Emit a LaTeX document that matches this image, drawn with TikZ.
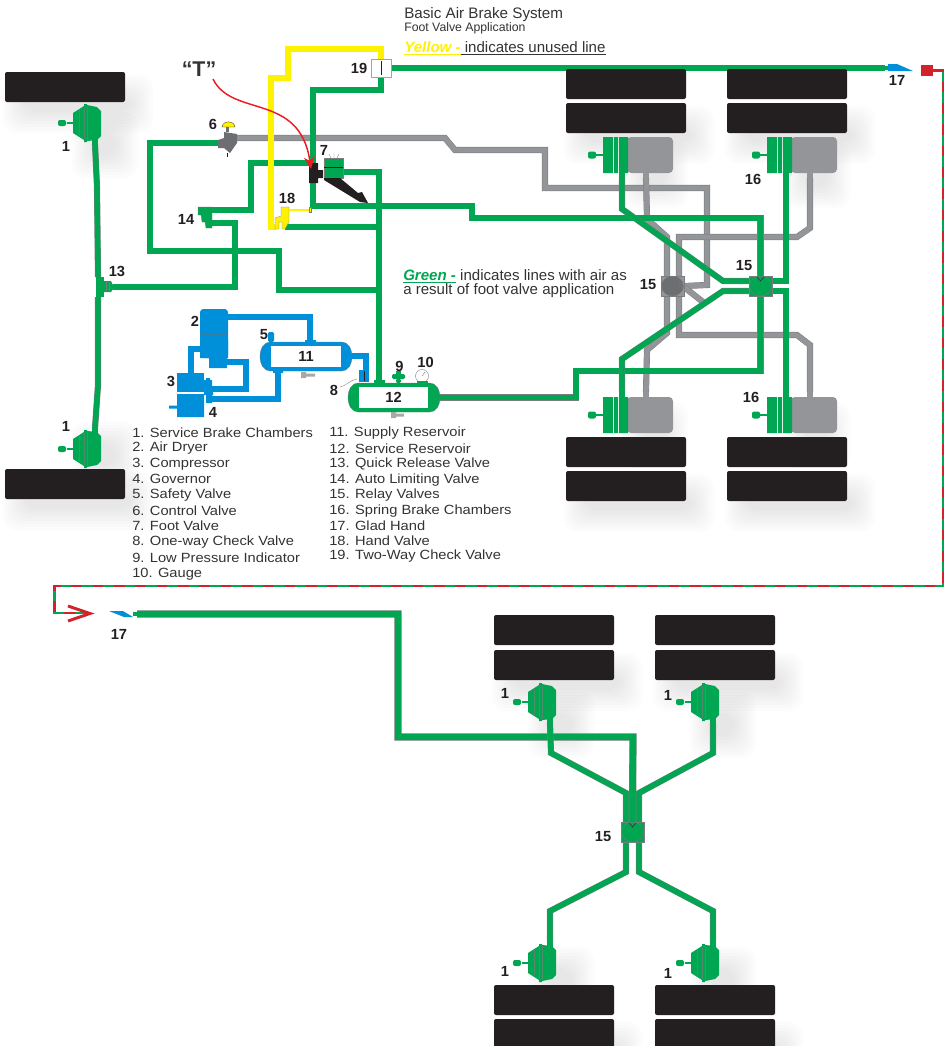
\documentclass[tikz,border=0pt]{standalone}
\usepackage{fontspec}
\setmainfont{Liberation Sans}
\newfontfamily\legendfont[FakeStretch=1.1]{Liberation Sans}
\usetikzlibrary{arrows.meta}
\definecolor{airgreen}{RGB}{0,166,81}
\definecolor{airblue}{RGB}{0,144,218}
\definecolor{airyellow}{RGB}{255,242,0}
\definecolor{airgray}{RGB}{147,149,152}
\definecolor{bodygray}{RGB}{109,110,113}
\definecolor{edgegray}{RGB}{120,125,125}
\definecolor{tyreblack}{RGB}{35,31,32}
\definecolor{textgray}{RGB}{51,51,51}
\definecolor{linered}{RGB}{210,35,42}
\definecolor{curvered}{RGB}{237,28,36}
\pgfdeclarelayer{shade}
\pgfdeclarelayer{pipes}
\pgfsetlayers{shade,pipes,main}
\begin{document}
\begin{tikzpicture}
    [x=.75pt, y=-.75pt,
    pipe/.style={draw=edgegray, line width=.3pt, double distance=4pt, line join=miter},
    greenpipe/.style={pipe, double=airgreen},
    graypipe/.style={pipe, double=airgray},
    bluepipe/.style={pipe, draw=airblue, double=airblue},
    yellowpipe/.style={pipe, double=airyellow},
    softshade/.style={fill=black, opacity=.012, rounded corners=10pt},
    tyre/.style={inner sep=0pt, rounded corners=1.5pt, fill=tyreblack, minimum width=90pt, minimum height=22.5pt},
    numlabel/.style={inner sep=0pt, text=tyreblack, font=\bfseries\fontsize{11}{13}\selectfont},
    legend/.style={inner sep=0pt, anchor=west, text=textgray, font=\legendfont\fontsize{10}{12}\selectfont},
    note/.style={inner sep=0pt, anchor=west, text=textgray, font=\fontsize{11.3}{13}\selectfont},
    relaybox/.style={inner sep=0pt, draw=edgegray, line width=.3pt, minimum width=17.25pt, minimum height=15pt},
    comp/.style={draw=edgegray, line width=.3pt},
    brakecham/.pic={
        \fill[airgreen] (-20,-1.2) rectangle (-13,1.2);
        \fill[airgreen, rounded corners=1.5pt] (-29,-3) rectangle (-21,3);
        \fill[airgreen] (-14,-10) -- (-14,10) -- (-3,17) -- (-3,19) -- (0,19) -- (0,18) -- (10,17) -- (14,13)
            -- (14,-12) -- (10,-16) -- (0,-18) -- (0,-19) -- (-3,-19) -- (-3,-17) -- cycle;
        \draw[edgegray!70!airgreen, line width=.3pt] (-3,-16) -- (-3,16) (0,-17) -- (0,17) (-8,-13) -- (-8,13);
        \fill[airgreen] (5,16) rectangle (11,21);
        \coordinate (-air) at (8,21);
    },
    springcham/.pic={
        \fill[airgray, rounded corners=3pt] (25,-18) -- (71,-18) -- (71,18) -- (25,18) -- cycle;
        \fill[airgreen] (1,-18) rectangle (11,18) (12,-18) rectangle (16,18) (17,-18) rectangle (26,18);
        \fill[airgreen] (-14,-1.2) rectangle (1,1.2);
        \fill[airgreen, rounded corners=1.5pt] (-14,-3.5) rectangle (-6,3.5);
        \fill[airgreen] (17,18) rectangle (23,23);
        \fill[airgray] (41,18) rectangle (47,23);
        \coordinate (-air) at (20,23);
        \coordinate (-park) at (44,23);
    },
    reservoir/.pic={
        \fill[#1, draw=edgegray, line width=.2pt] (-36,-14.5) -- (36,-14.5) .. controls (42,-14.5) and (46,-8) .. (46,0)
            .. controls (46,8) and (42,14.5) .. (36,14.5) -- (-36,14.5) .. controls (-42,14.5) and (-46,8) .. (-46,0)
            .. controls (-46,-8) and (-42,-14.5) .. (-36,-14.5) -- cycle;
    }]
    \useasboundingbox (0,0) rectangle (947,1046);

    %% Tyres
    \foreach \n/\x/\y in {tyreFa/65/87, tyreFb/65/484, tyreRa/626/84, tyreRb/626/118, tyreRc/787/84, tyreRd/787/118,
        tyreRe/626/452, tyreRf/626/486, tyreRg/787/452, tyreRh/787/486, tyreTa/554/630, tyreTb/554/665, tyreTc/715/630,
        tyreTd/715/665, tyreTe/554/1000, tyreTf/554/1034, tyreTg/715/1000, tyreTh/715/1034}
        \node[tyre] (\n) at (\x,\y) {};

    %% Shadows
    \begin{pgfonlayer}{shade}
        \foreach \x/\y in {65/87, 65/484, 626/118, 787/118, 626/486, 787/486, 554/665, 715/665, 554/1034, 715/1034}
            \foreach \s in {0,...,7}
                \fill[softshade] (\x-62+\s*3,\y-12+\s*3) rectangle (\x+88-\s*3,\y+46-\s*3);
        \foreach \x/\y in {100/140, 100/450, 650/170, 812/170, 650/430, 812/430, 556/720, 718/720, 556/975, 718/975}
            \foreach \s in {0,...,7}
                \fill[softshade] (\x-28+\s*3,\y-28+\s*3) rectangle (\x+38-\s*3,\y+38-\s*3);
    \end{pgfonlayer}

    %% Chambers
    \pic (chamFa) at (87,123) {brakecham};
    \pic[yscale=-1] (chamFb) at (87,449) {brakecham};
    \pic (chamTa) at (542,702) {brakecham};
    \pic (chamTb) at (705,702) {brakecham};
    \pic[yscale=-1] (chamTc) at (542,963) {brakecham};
    \pic[yscale=-1] (chamTd) at (705,963) {brakecham};
    \pic (springA) at (602,155) {springcham};
    \pic (springB) at (766,155) {springcham};
    \pic[yscale=-1] (springC) at (602,415) {springcham};
    \pic[yscale=-1] (springD) at (766,415) {springcham};

    %% Relay valves
    \foreach \n/\x/\y/\b/\c in {relayG/672.5/286/airgray/bodygray, relayR/760.5/286/airgreen/airgreen, relayT/632.5/832/airgreen/airgreen} {
        \node[relaybox, fill=\b] (\n) at (\x,\y) {};
        \draw[comp, fill=\c] (\n) ellipse (11 and 10);
    }
    \draw[comp] (681,285) circle (2);
    \draw[comp, draw=tyreblack] (757,277) -- (760.5,281) -- (764,277);
    \draw[comp, draw=tyreblack] (629,823) -- (632.5,827) -- (636,823);

    %% Reservoirs
    \pic at (306,356.5) {reservoir=airblue};
    \pic at (394,397.5) {reservoir=airgreen};
    \node[inner sep=0pt, fill=white, minimum width=52.5pt, minimum height=15.75pt, numlabel] (res11) at (306,356.5) {11};
    \node[inner sep=0pt, fill=white, minimum width=52pt, minimum height=15.75pt, numlabel] (res12) at (393.5,397.5) {12};
    \fill[airblue] (305,340) rectangle (316,343) (273,370) rectangle (283,373);
    \fill[airgreen] (374,380) rectangle (385,383);
    \fill[airblue, rounded corners=1pt] (268,332) rectangle (274,342);

    %% Air supply
    \node[inner sep=0pt, rounded corners=2.5pt, fill=airblue, minimum width=21pt, minimum height=36.75pt] (dryer) at (214,333.5) {};
    \fill[airblue] (200,340) rectangle (228,358) (209,358) rectangle (227,368);
    \draw[bodygray!50!airblue, line width=.3pt] (200,334) -- (228,334);
    \node[inner sep=0pt, fill=airblue, minimum width=20.25pt, minimum height=14.25pt] (compressor) at (190.5,382.5) {};
    \fill[airblue] (177,394) rectangle (204,417) (169,405.5) rectangle (177,408.5) (204,380) rectangle (212,392) (206,378) rectangle (210,380);
    \fill[airblue] (204,392) rectangle (213,395) (206,395) rectangle (212,403);
    \node[inner sep=0pt, fill=airblue, minimum width=7.5pt, minimum height=9pt] (checkvalve) at (364,376) {};
    \draw[line width=.5pt, tyreblack] (364.5,371) -- (364.5,381);
    \draw[textgray!60, line width=.3pt] (340,387) .. controls (346,386) and (350,380) .. (357,379);
    \fill[airgreen, rounded corners=1pt] (392,374) rectangle (405,379) (396,379) rectangle (401,383);
    \fill[airgreen] (396,371) rectangle (401,374);
    \draw[edgegray, line width=.3pt, fill=white] (422,376) circle (6.5);
    \draw[edgegray, line width=.3pt] (422,376) -- (425,372);
    \fill[airgreen] (417,381) rectangle (428,383);
    \fill[bodygray!60!white] (301,372) rectangle (306,378) (306,373.5) rectangle (315,376.5);
    \fill[bodygray!60!white] (391,412) rectangle (396,418) (396,413.5) rectangle (404,416.5);

    %% Valves
    \node[inner sep=0pt, draw=edgegray!70, line width=.3pt, fill=white, minimum width=15pt, minimum height=13.5pt] (valve19) at (381,68) {};
    \draw[line width=.5pt, tyreblack] (381,61) -- (381,75);
    \fill[bodygray] (224,132) -- (237,134) -- (237,143) -- (230,153) -- (224,148) -- (218,148) -- (218,140) -- (224,138) -- cycle;
    \fill[bodygray] (226,126) rectangle (229,132);
    \draw[tyreblack, line width=.4pt] (227.5,153) -- (227.5,157);
    \fill[airyellow, draw=tyreblack, line width=.2pt] (222,127) .. controls (223,120) and (234,120) .. (235,127) -- cycle;
    \coordinate (valve6) at (222,143);
    \coordinate (valve6gray) at (237,138);
    \node[inner sep=0pt, fill=airgreen, draw=edgegray, line width=.3pt, minimum width=14.25pt, minimum height=15pt] (footvalve) at (333.5,168) {};
    \draw[tyreblack, line width=.4pt] (324,167) -- (343,167);
    \draw[edgegray, line width=.3pt] (331,158) -- (329,154) (334,158) -- (334,153) (337,158) -- (339,154);
    \fill[tyreblack] (309,163) -- (318,163) -- (318,170) -- (323,170) -- (323,178) -- (318,178) -- (318,183) -- (309,183) -- cycle;
    \fill[tyreblack] (324,178) -- (340,178) -- (358,193) -- (362,192) -- (368,203) -- (360,202) -- (324,180) -- cycle;
    \fill[airgreen, draw=edgegray, line width=.2pt] (198,207) -- (212,207) -- (212,228) -- (206,228) -- (205,222) -- (202,222) -- (201,215) -- (198,215) -- cycle;
    \coordinate (valve14a) at (205,210);
    \coordinate (valve14b) at (212,223);
    \fill[airyellow, draw=edgegray, line width=.2pt] (275,229) -- (275,218) -- (281,216) -- (281,207) -- (289,207) -- (289,222) -- (285,229) -- (282,229) -- (282,222) -- (279,222) -- (279,229) -- cycle;
    \draw[airyellow, line width=1pt] (289,210) -- (309,210);
    \fill[airyellow, draw=edgegray, line width=.2pt] (309,207.5) rectangle (311,212.5);
    \coordinate (handvalve) at (276,227);
    \coordinate (handvalveout) at (285,227);
    \node[inner sep=0pt, fill=airgreen, minimum width=6pt, minimum height=15pt] (valve13) at (100,287) {};
    \fill[airgreen] (104,281) -- (111,281) -- (113,285) -- (113,289) -- (111,292) -- (104,292) -- cycle;
    \draw[edgegray, line width=.2pt] (106,282) -- (106,291) (109,282) -- (109,291);
    \coordinate (valve13r) at (113,287);

    %% Glad hands
    \fill[airblue] (888,64) -- (897,64) -- (913,71) -- (888,71) -- cycle;
    \fill[airgreen] (884,66) rectangle (888,70);
    \coordinate (gladA) at (885,68);
    \fill[airblue] (109,611) -- (123,611) -- (133,617) -- (124,617) -- cycle;
    \fill[airgreen] (133,612) rectangle (137,616);
    \coordinate (gladB) at (137,614);
    \node[inner sep=0pt, fill=linered, minimum width=8.5pt, minimum height=8.5pt] (gladred) at (927,70.5) {};
    \coordinate (redend) at (88,613);

    \begin{pgfonlayer}{pipes}
        %% Gray lines, drive axles
        \draw[graypipe] (valve6gray) -- (445,138) -- (455,150) -- (545,150) -- (545,188) -- (707,188) -- (707,285) -- (relayG.east);
        \draw[graypipe] (springA-park) -- (647,219) -- (667,237) -- (667,276);
        \draw[graypipe] (667,296) -- (667,333) -- (647,350) -- (springC-park);
        \draw[graypipe] (679,276) -- (679,237) -- (797,237) -- (810,228) -- (springB-park);
        \draw[graypipe] (679,296) -- (679,335) -- (797,335) -- (810,345) -- (springD-park);
        \draw[graypipe] (684,287) -- (703,302);

        %% Green lines, drive axles
        \draw[greenpipe] (relayR.north) -- (760.5,218) -- (472,218) -- (472,206) -- (313,206) -- (313,90) -- (381,90) -- (valve19.south);
        \draw[greenpipe] (valve19.east) -- (gladA);
        \draw[greenpipe] (relayR.south) -- (760.5,371) -- (576,371) -- (576,397.5) -- (res12.east);
        \draw[greenpipe] (749,281) -- (723,281) -- (622,209) -- (springA-air);
        \draw[greenpipe] (749,291) -- (723,291) -- (622,359) -- (springC-air);
        \draw[greenpipe] (772,281) -- (786,281) -- (springB-air);
        \draw[greenpipe] (772,291) -- (786,291) -- (springD-air);

        %% Green lines, front axle and foot valve
        \draw[greenpipe] (chamFa-air) -- (97,187) -- (98,277);
        \draw[greenpipe] (98,297) -- (98,385) -- (chamFb-air);
        \draw[greenpipe] (valve6) -- (150,143) -- (150,251) -- (279,251) -- (279,290) -- (379,290);
        \draw[greenpipe] (310,163) -- (251,163) -- (251,210) -- (valve14a);
        \draw[greenpipe] (valve14b) -- (235,223) -- (235,287) -- (valve13r);
        \draw[greenpipe] (footvalve.east |- 0,172) -- (379,172) -- (379,381);
        \draw[greenpipe] (handvalveout) -- (379,227);

        %% Green lines, trailer
        \draw[greenpipe, double distance=4.8pt] (gladB) -- (398,614) -- (398,737) -- (633,737) -- (relayT.north);
        \draw[greenpipe] (chamTa-air) -- (551,753) -- (626,793) -- (626,822);
        \draw[greenpipe] (chamTb-air) -- (713,753) -- (639,793) -- (639,822);
        \draw[greenpipe] (626,842) -- (626,872) -- (550,911) -- (chamTc-air);
        \draw[greenpipe] (639,842) -- (639,872) -- (713,911) -- (chamTd-air);

        %% Yellow line
        \draw[yellowpipe] (valve19.north) -- (381,49) -- (288,49) -- (288,78) -- (271,78) -- (271,227) -- (handvalve);

        %% Blue lines
        \draw[bluepipe] (228,317) -- (310,317) -- (310,342);
        \draw[bluepipe] (191,374) -- (191,349) -- (200,349);
        \draw[bluepipe] (227,362) -- (246,362) -- (246,389) -- (212,389);
        \draw[bluepipe] (210,399) -- (278,399) -- (278,372);
        \draw[bluepipe] (350,356) -- (366,356) -- (366,371);
    \end{pgfonlayer}

    %% Hand over line
    \draw[airgreen, line width=2pt] (gladred.east) -- (943,70.5) -- (943,586) -- (54.5,586) -- (54.5,613) -- (redend);
    \draw[linered, line width=2.2pt, dash pattern=on 8pt off 8pt] (gladred.east) -- (943,70.5) -- (943,586) -- (54.5,586) -- (54.5,613) -- (redend);
    \draw[linered, line width=2.2pt] (68,606) -- (90,613.5) -- (68,621);

    %% T marker
    \node[inner sep=0pt, text=textgray, font=\bfseries\fontsize{16}{18}\selectfont] (tmark) at (199,69) {``T''};
    \coordinate (tstart) at (213,79);
    \draw[curvered, line width=1.1pt, -{Stealth[length=9pt,width=8pt]}] (tstart) .. controls (232,118) and (300,92) .. (311,169);

    %% Numbers
    \foreach \n/\x/\y/\t in {numA/66/146/1, numB/66/426/1, numC/117/271/13, numD/213/124/6, numE/324/150/7, numF/287/198/18,
        numG/186/219/14, numH/359/68/19, numI/195/321/2, numJ/264/335/5, numK/171/381/3, numL/213/412/4, numM/334/390/8,
        numN/399.5/366/9, numO/425.5/362/10, numP/648/285/15, numQ/744/266/15, numR/753/179/16, numS/751/397/16,
        numT/897/80/17, numU/119/634/17, numV/505/693/1, numW/668/695/1, numX/603/837/15, numY/505/971/1, numZ/668/973/1}
        \node[numlabel] (\n) at (\x,\y) {\t};

    %% Titles
    \node[note, font=\fontsize{11.4}{13}\selectfont] (title) at (404,14.5) {Basic Air Brake System};
    \node[note, font=\fontsize{9.2}{11}\selectfont] (subtitle) at (404,28) {Foot Valve Application};
    \node[note] (yellownote) at (404,48) {\textcolor{airyellow}{\underline{\bfseries\itshape Yellow -}}\underline{ indicates unused line}};
    \node[note] (greennote) at (403,276) {\textcolor{airgreen}{\underline{\bfseries\itshape Green -}} indicates lines with air as};
    \node[note] (greennoteb) at (403,291) {a result of foot valve application};

    %% Legend
    \foreach \n/\y/\t in {legA/433/1. Service Brake Chambers, legB/448/2. Air Dryer, legC/464/3. Compressor, legD/479/4. Governor,
        legE/495/5. Safety Valve, legF/511/6. Control Valve, legG/526/7. Foot Valve, legH/542/8. One-way Check Valve,
        legI/558/9. Low Pressure Indicator, legJ/574/10. Gauge}
        \node[legend] (\n) at (132,\y) {\t};
    \foreach \n/\y/\t in {legK/433/11. Supply Reservoir, legL/449/12. Service Reservoir, legM/464/13. Quick Release Valve,
        legN/480/14. Auto Limiting Valve, legO/495/15. Relay Valves, legP/511/16. Spring Brake Chambers, legQ/526/17. Glad Hand,
        legR/541/18. Hand Valve, legS/556/19. Two-Way Check Valve}
        \node[legend] (\n) at (329,\y) {\t};
\end{tikzpicture}
\end{document}
